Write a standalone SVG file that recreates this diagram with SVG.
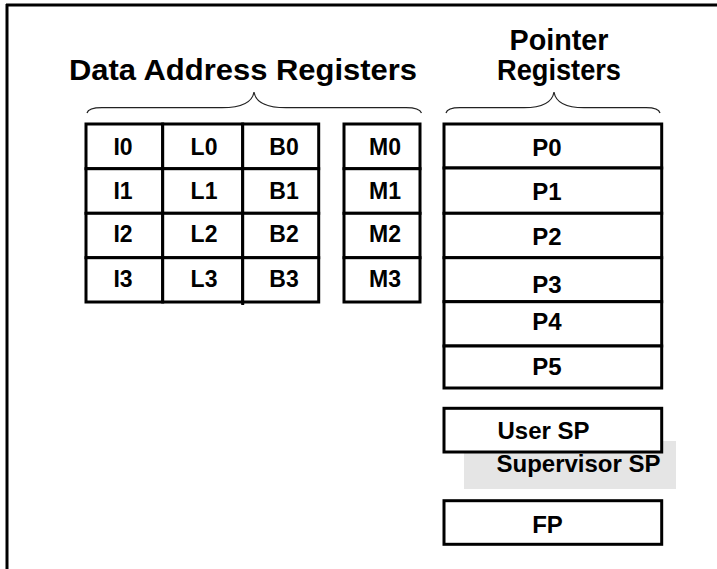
<svg xmlns="http://www.w3.org/2000/svg" width="717" height="569" viewBox="0 0 717 569">
<style>
.cell{fill:#fff;stroke:#000;stroke-width:3}
.t{font-family:"Liberation Sans",Arial,sans-serif;font-weight:bold;font-size:23px;text-anchor:middle;fill:#000}
.t2{font-family:"Liberation Sans",Arial,sans-serif;font-weight:bold;font-size:24px;text-anchor:middle;fill:#000}
.title{font-family:"Liberation Sans",Arial,sans-serif;font-weight:bold;font-size:30px;text-anchor:middle;fill:#000}
.brace{fill:none;stroke:#222;stroke-width:1.2}
</style>
<rect width="717" height="569" fill="#fff"/>
<path d="M6,5 H717 M7,4 V569" stroke="#000" stroke-width="3" fill="none"/>
<text class="title" x="243" y="80" textLength="348" lengthAdjust="spacingAndGlyphs">Data Address Registers</text>
<text class="title" x="559" y="50" textLength="99" lengthAdjust="spacingAndGlyphs">Pointer</text>
<text class="title" x="559" y="80" textLength="124" lengthAdjust="spacingAndGlyphs">Registers</text>
<g id="connectors">
<path class="brace" d="M87,113 C88,109 94,107.7 102,107.7 H222 C238,107.7 252,104 254,92 C256,104 270,107.7 286,107.7 H406 C414,107.7 420,109 421.5,113"/>
<path class="brace" d="M446,113 C447,109 452,107.7 460,107.7 H524 C540,107.7 552,104 554,92 C556,104 568,107.7 584,107.7 H646 C654,107.7 659,109 660,113"/>
<path d="M242.7,302 V305" stroke="#000" stroke-width="3"/>
</g>
<g id="I0"><rect class="cell" x="86" y="124" width="76.7" height="44.7"/><text class="t" x="123" y="155">I0</text></g>
<g id="L0"><rect class="cell" x="162.7" y="124" width="80" height="44.7"/><text class="t" x="204" y="155">L0</text></g>
<g id="B0"><rect class="cell" x="242.7" y="124" width="76" height="44.7"/><text class="t" x="284" y="155">B0</text></g>
<g id="I1"><rect class="cell" x="86" y="168.7" width="76.7" height="44.6"/><text class="t" x="123" y="198.5">I1</text></g>
<g id="L1"><rect class="cell" x="162.7" y="168.7" width="80" height="44.6"/><text class="t" x="204" y="198.5">L1</text></g>
<g id="B1"><rect class="cell" x="242.7" y="168.7" width="76" height="44.6"/><text class="t" x="284" y="198.5">B1</text></g>
<g id="I2"><rect class="cell" x="86" y="213.3" width="76.7" height="44.4"/><text class="t" x="123" y="242">I2</text></g>
<g id="L2"><rect class="cell" x="162.7" y="213.3" width="80" height="44.4"/><text class="t" x="204" y="242">L2</text></g>
<g id="B2"><rect class="cell" x="242.7" y="213.3" width="76" height="44.4"/><text class="t" x="284" y="242">B2</text></g>
<g id="I3"><rect class="cell" x="86" y="257.7" width="76.7" height="44.3"/><text class="t" x="123" y="287">I3</text></g>
<g id="L3"><rect class="cell" x="162.7" y="257.7" width="80" height="44.3"/><text class="t" x="204" y="287">L3</text></g>
<g id="B3"><rect class="cell" x="242.7" y="257.7" width="76" height="44.3"/><text class="t" x="284" y="287">B3</text></g>
<g id="M0"><rect class="cell" x="344" y="124" width="76" height="44.7"/><text class="t" x="385" y="155">M0</text></g>
<g id="M1"><rect class="cell" x="344" y="168.7" width="76" height="44.6"/><text class="t" x="385" y="198.5">M1</text></g>
<g id="M2"><rect class="cell" x="344" y="213.3" width="76" height="44.4"/><text class="t" x="385" y="242">M2</text></g>
<g id="M3"><rect class="cell" x="344" y="257.7" width="76" height="44.3"/><text class="t" x="385" y="287">M3</text></g>
<g id="P0"><rect class="cell" x="444" y="124" width="217.7" height="44"/><text class="t2" x="547" y="156">P0</text></g>
<g id="P1"><rect class="cell" x="444" y="168" width="217.7" height="45.3"/><text class="t2" x="547" y="200">P1</text></g>
<g id="P2"><rect class="cell" x="444" y="213.3" width="217.7" height="44.4"/><text class="t2" x="547" y="245">P2</text></g>
<g id="P3"><rect class="cell" x="444" y="257.7" width="217.7" height="44"/><text class="t2" x="547" y="292.5">P3</text></g>
<g id="P4"><rect class="cell" x="444" y="301.7" width="217.7" height="44.3"/><text class="t2" x="547" y="330">P4</text></g>
<g id="P5"><rect class="cell" x="444" y="346" width="217.7" height="42"/><text class="t2" x="547" y="375">P5</text></g>
<g id="SupervisorSP"><rect x="464" y="441" width="212" height="48" fill="#e5e5e5"/><text class="t2" x="578.5" y="471.5">Supervisor SP</text></g>
<g id="UserSP"><rect class="cell" x="444" y="408.3" width="217.7" height="43.7"/><text class="t2" x="543.5" y="439">User SP</text></g>
<g id="FP"><rect class="cell" x="444" y="500.7" width="217.7" height="43.6"/><text class="t2" x="547.5" y="533">FP</text></g>
</svg>
